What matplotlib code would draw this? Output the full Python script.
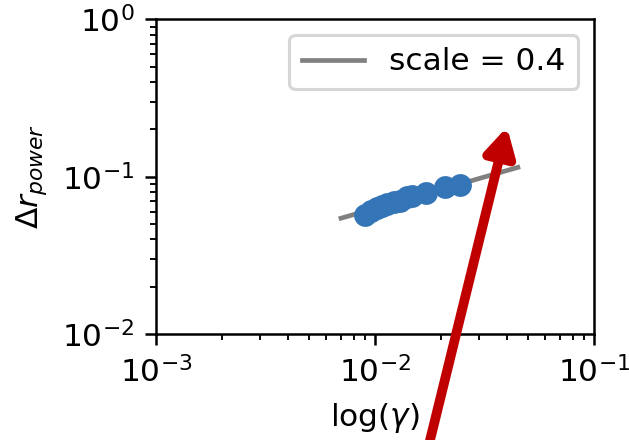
import numpy as np
import matplotlib
matplotlib.use("Agg")
import matplotlib.pyplot as plt

# measured power deviation vs. gamma
gamma = [0.0090, 0.0096, 0.0102, 0.0108, 0.0114, 0.0122,
         0.0130, 0.0140, 0.0148, 0.0172, 0.0210, 0.0245]
dr_power = [0.0572, 0.0605, 0.0630, 0.0650, 0.0670, 0.0690,
            0.0705, 0.0740, 0.0755, 0.0785, 0.0865, 0.0885]

# power-law guide line
scale = 0.4
prefactor = 0.396
gamma_fit = np.array([0.0070, 0.045])
dr_fit = prefactor * gamma_fit**scale

fig = plt.figure(figsize=(629 / 225, 440 / 225), dpi=225)
ax = fig.add_axes([0.248, 0.241, 0.696, 0.715])

ax.plot(gamma_fit, dr_fit, color='gray', lw=1.5, label='scale = %s' % scale)
ax.plot(gamma, dr_power, 'o', color='#3375b6', ms=6.3)

ax.set_xscale('log')
ax.set_yscale('log')
ax.set_xlim(1e-3, 1e-1)
ax.set_ylim(1e-2, 1e0)
ax.set_xlabel(r'log($\gamma$)')
ax.set_ylabel(r'$\Delta r_{power}$')
ax.legend(loc='upper right')

# red arrow drawn over the whole figure
ax.annotate('', xy=(507 / 629, 1 - 127 / 440), xycoords='figure fraction',
            xytext=(429 / 629, -0.01), textcoords='figure fraction',
            arrowprops=dict(arrowstyle='-|>,head_length=0.72,head_width=0.4',
                            lw=3.1, color='#c00000', shrinkA=0, shrinkB=0),
            annotation_clip=False)

fig.savefig('out.png', dpi=225)
